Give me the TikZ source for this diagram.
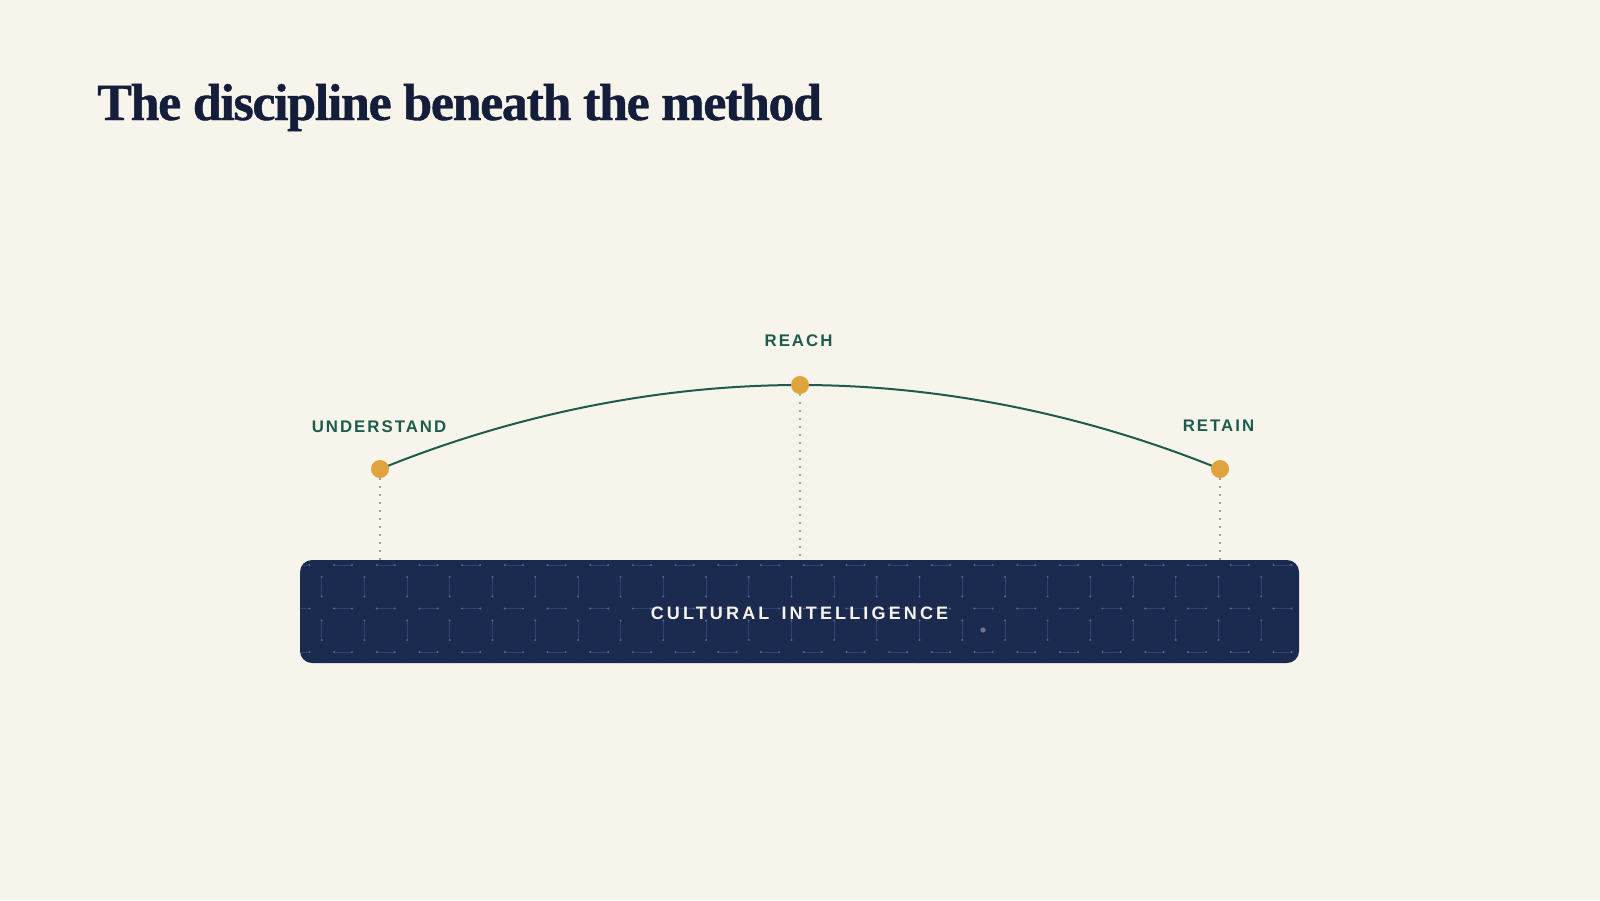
\documentclass[tikz,border=0pt]{standalone}
\usepackage{fontspec}
\usepackage{tikz}
\usetikzlibrary{positioning}

\newfontfamily\titlefont[LetterSpace=-2.6,FakeBold=0.8]{Liberation Serif}
\newfontfamily\stagefont[LetterSpace=12]{Liberation Sans}
\newfontfamily\bandfont[LetterSpace=17.5]{Liberation Sans}

\definecolor{paper}{HTML}{F7F4EC}
\definecolor{ink}{HTML}{141E3A}
\definecolor{pine}{HTML}{1E5B4D}
\definecolor{amber}{HTML}{E0A43E}
\definecolor{navy}{HTML}{1B2A4F}
\definecolor{gridline}{HTML}{2F4272}
\definecolor{griddot}{HTML}{56679A}
\definecolor{guidegray}{HTML}{A3A39C}
\definecolor{mauve}{HTML}{7C7085}

\tikzset{
  stagedot/.style={circle,fill=amber,minimum size=18pt,inner sep=0pt},
  stagelabel/.style={inner sep=0pt,text=pine,font=\stagefont\bfseries\fontsize{16.8}{18}\selectfont},
  guide/.style={guidegray,line width=1.5pt,dash pattern=on 1.5pt off 6.5pt},
  band/.style={fill=navy,rounded corners=12pt,minimum width=999pt,minimum height=103pt,inner sep=0pt}
}

\begin{document}
\begin{tikzpicture}[x=1pt,y=-1pt]
  \fill[paper] (0,0) rectangle (1600,900);
  \useasboundingbox (0,0) rectangle (1600,900);

  \node[anchor=base west,inner sep=0pt,text=ink,font=\titlefont\bfseries\fontsize{52}{58}\selectfont]
    (title) at (97,120) {The discipline beneath the method};

  % points on the arc
  \coordinate (pu) at (380,469);
  \coordinate (pr) at (800,385);
  \coordinate (pt) at (1220,469);
  \draw[pine,line width=2pt] (pu) parabola bend (pr) (pt);

  \node[stagedot] (u) at (pu) {};
  \node[stagedot] (r) at (pr) {};
  \node[stagedot] (t) at (pt) {};
  \node[stagelabel,above=27pt of u,xshift=-1pt] (ul) {UNDERSTAND};
  \node[stagelabel,above=29pt of r,xshift=-1.5pt] (rl) {REACH};
  \node[stagelabel,above=28pt of t,xshift=-1.5pt] (tl) {RETAIN};

  % the band
  \node[band] (ci) at (799.5,611.5) {};
  \begin{scope}
    \clip[rounded corners=12pt] (ci.south west) rectangle (ci.north east);
    \foreach \i in {0,...,24}{
      \foreach \j in {-1,...,3}{
        \pgfmathsetmacro{\cx}{279+42.7*\i}
        \pgfmathsetmacro{\cy}{565+43.5*\j}
        \draw[gridline,line width=0.7pt] (\cx+12.3,\cy) -- (\cx+30.4,\cy);
        \draw[gridline,line width=0.7pt] (\cx,\cy+12) -- (\cx,\cy+31.5);
        \fill[griddot] (\cx+12.3,\cy) circle (1.1pt) (\cx+30.4,\cy) circle (1.1pt)
          (\cx,\cy+12) circle (1.1pt) (\cx,\cy+31.5) circle (1.1pt);
      }
    }
  \end{scope}
  \fill[mauve] (983,630) circle (2.6pt);
  \node[inner sep=0pt,text=paper,font=\bandfont\bfseries\fontsize{18}{20}\selectfont,yshift=-1.5pt]
    (cil) at (ci) {CULTURAL\hspace{4pt} INTELLIGENCE};

  \draw[guide] (u.south) -- (u |- ci.north);
  \draw[guide] (r.south) -- (r |- ci.north);
  \draw[guide] (t.south) -- (t |- ci.north);
\end{tikzpicture}
\end{document}
